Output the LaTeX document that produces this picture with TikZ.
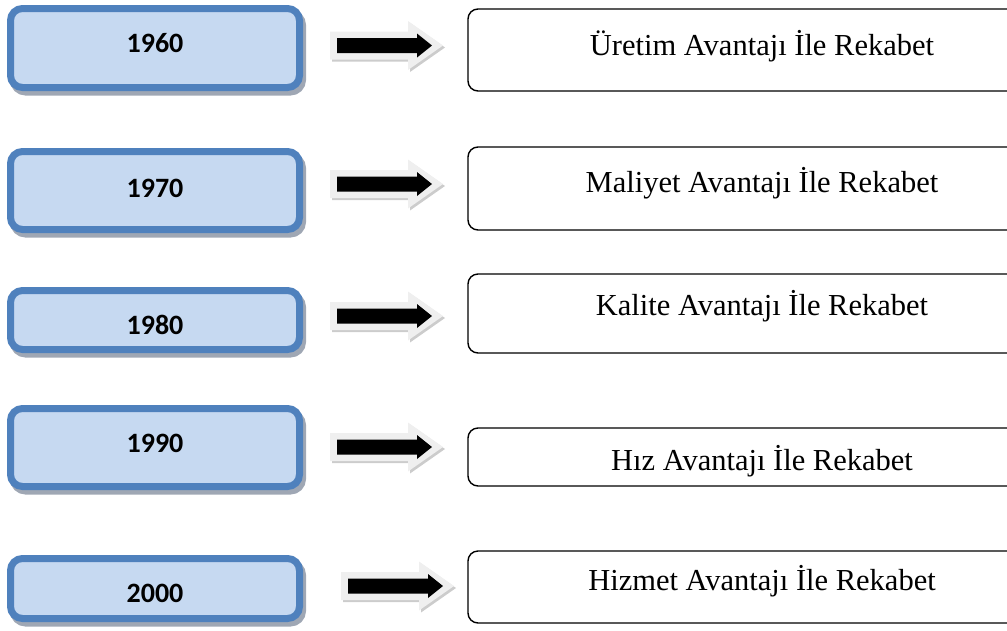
\documentclass[tikz,border=0pt]{standalone}
\usepackage{fontspec}
\setmainfont{Liberation Serif}
\newfontfamily\yearfont{Carlito}
\definecolor{boxblue}{HTML}{4F81BD}
\definecolor{boxfill}{HTML}{C6D9F1}
\definecolor{boxshadow}{HTML}{9FA7B4}
\definecolor{arrowgray}{HTML}{EFEFEF}
\definecolor{arrowdark}{HTML}{CCCCCC}
\tikzset{
  blockarrow/.pic={
    \fill[arrowdark] (-5,-12) -- (73,-12) -- (73,-22.5) -- (108,2) -- (73,26.5) -- (73,16) -- (-5,16) -- cycle;
    \fill[arrowgray] (-7,-14) -- (71,-14) -- (71,-24.5) -- (106,0) -- (71,24.5) -- (71,14) -- (-7,14) -- cycle;
    \fill[black] (0,-7.5) -- (80,-7.5) -- (80,-12) -- (95,0) -- (80,12) -- (80,7.5) -- (0,7.5) -- cycle;
  }
}
\begin{document}
\begin{tikzpicture}[x=1pt,y=-1pt,
  yearbox/.style={draw=boxblue, line width=7pt, fill=boxfill, rounded corners=12pt,
    minimum width=289pt, inner sep=0pt,
    preaction={draw=boxshadow, fill=boxshadow, line width=7pt,
      transform canvas={xshift=3pt,yshift=-4.5pt}}},
  yeartext/.style={font=\yearfont\bfseries\fontsize{28}{32}\selectfont, inner sep=0pt},
  stagebox/.style={draw=black, line width=1.4pt, rounded corners=10pt,
    minimum width=588pt, inner sep=0pt, fill=white},
  stagetext/.style={font=\fontsize{30.5}{36}\selectfont, anchor=base, inner sep=0pt},
]
\useasboundingbox (0,0) rectangle (1007,630);

% year boxes
\node[yearbox, minimum height=79pt] (b1) at (155,48) {};
\node[yearbox, minimum height=78pt] (b2) at (155,190.5) {};
\node[yearbox, minimum height=59pt] (b3) at (155,320) {};
\node[yearbox, minimum height=78pt] (b4) at (155,447.5) {};
\node[yearbox, minimum height=60pt] (b5) at (155,588.5) {};

\node[yeartext] (y1) at (155,43) {1960};
\node[yeartext] (y2) at (155,188) {1970};
\node[yeartext] (y3) at (155,325) {1980};
\node[yeartext] (y4) at (155,443) {1990};
\node[yeartext] (y5) at (155,593) {2000};

% arrows
\pic (a1) at (337,45.5) {blockarrow};
\pic (a2) at (337,184) {blockarrow};
\pic (a3) at (337,316) {blockarrow};
\pic (a4) at (337,447) {blockarrow};
\pic (a5) at (348,586) {blockarrow};

% stage boxes
\node[stagebox, minimum height=82pt] (s1) at (762,50) {};
\node[stagebox, minimum height=83pt] (s2) at (762,188.5) {};
\node[stagebox, minimum height=79pt] (s3) at (762,313.5) {};
\node[stagebox, minimum height=58pt] (s4) at (762,457) {};
\node[stagebox, minimum height=72pt] (s5) at (762,587) {};

\node[stagetext] (t1) at (762,55) {Üretim Avantajı İle Rekabet};
\node[stagetext] (t2) at (762,192) {Maliyet Avantajı İle Rekabet};
\node[stagetext] (t3) at (762,315) {Kalite Avantajı İle Rekabet};
\node[stagetext] (t4) at (762,470) {Hız Avantajı İle Rekabet};
\node[stagetext] (t5) at (762,590) {Hizmet Avantajı İle Rekabet};
\end{tikzpicture}
\end{document}
